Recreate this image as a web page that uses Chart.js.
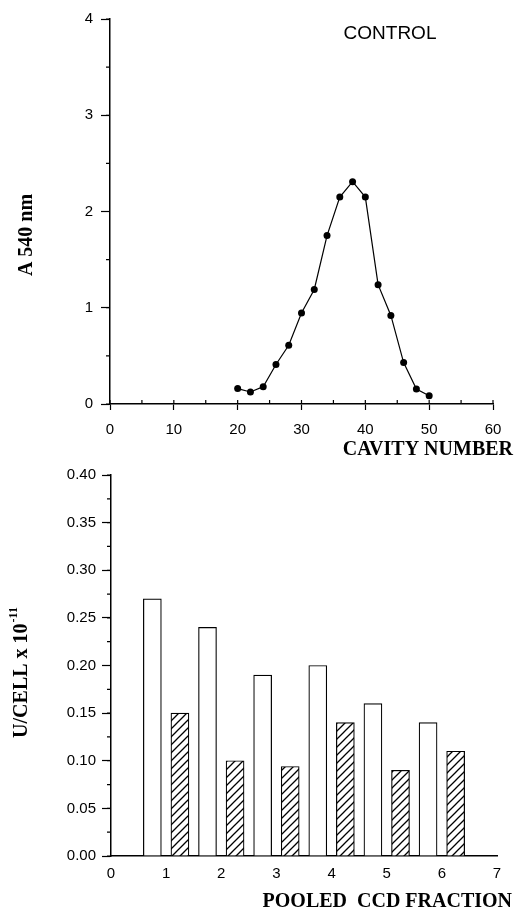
<!DOCTYPE html>
<html>
<head>
<meta charset="utf-8">
<script src="https://cdn.jsdelivr.net/npm/chart.js@4.4.1/dist/chart.umd.min.js"></script>
<style>
  body { margin:0; background:#fff; }
  #top { position:absolute; left:0; top:0; width:515px; height:460px; }
  #bottom { position:absolute; left:0; top:460px; width:515px; height:449px; }
</style>
</head>
<body>
<div id="top"><canvas id="chart1"></canvas></div>
<div id="bottom"><canvas id="chart2"></canvas></div>
<script>
// top panel: absorbance vs cavity number
const cavity = [20,22,24,26,28,30,32,34,36,38,40,42,44,46,48,50];
const absorbance = [0.16,0.125,0.18,0.41,0.61,0.945,1.19,1.75,2.15,2.31,2.15,1.24,0.92,0.43,0.155,0.085];

// bottom panel: pooled CCD fractions
const fraction = [1,2,3,4,5,6];
const openBars = [0.27,0.24,0.19,0.20,0.16,0.14];
const hatchedBars = [0.15,0.10,0.094,0.14,0.09,0.11];

Chart.defaults.color = '#000';
Chart.defaults.font.family = "'Liberation Sans', Arial, sans-serif";
Chart.defaults.font.size = 15;

const serif = "bold 20px 'Liberation Serif', 'Times New Roman', serif";

// free text (titles) drawn on the canvas
const textLabels = {
  id: 'textLabels',
  afterDraw(chart, args, opts) {
    const ctx = chart.ctx;
    (opts.items || []).forEach(it => {
      ctx.save();
      ctx.translate(it.x, it.y);
      if (it.rotate) ctx.rotate(-Math.PI / 2);
      ctx.fillStyle = '#000';
      ctx.textBaseline = 'middle';
      ctx.font = it.font;
      if (it.sup) {
        const w = ctx.measureText(it.text).width;
        ctx.font = it.supFont;
        const sw = ctx.measureText(it.sup).width;
        const start = -(w + sw) / 2;
        ctx.textAlign = 'left';
        ctx.font = it.font;
        ctx.fillText(it.text, start, 0);
        ctx.font = it.supFont;
        ctx.fillText(it.sup, start + w + 1, -8);
      } else {
        ctx.textAlign = it.align || 'center';
        ctx.fillText(it.text, 0, 0);
      }
      ctx.restore();
    });
  }
};

// short minor ticks
const minorTicks = {
  id: 'minorTicks',
  afterDraw(chart, args, opts) {
    const ctx = chart.ctx;
    ctx.save();
    ctx.strokeStyle = '#000';
    ctx.lineWidth = 1.2;
    ['x', 'y'].forEach(id => {
      const o = opts[id];
      const s = chart.scales[id];
      if (!o || !s) return;
      ctx.beginPath();
      for (let v = s.min; v <= s.max + 1e-9; v += o.step) {
        const p = s.getPixelForValue(v);
        if (s.isHorizontal()) {
          ctx.moveTo(p, s.top);
          ctx.lineTo(p, s.top + (o.inside ? -o.len : o.len));
        } else {
          ctx.moveTo(s.right, p);
          ctx.lineTo(s.right - o.len, p);
        }
      }
      ctx.stroke();
    });
    ctx.restore();
  }
};

Chart.register(textLabels, minorTicks);

function hatch() {
  const c = document.createElement('canvas');
  c.width = 8; c.height = 8;
  const g = c.getContext('2d');
  g.fillStyle = '#fff';
  g.fillRect(0, 0, 8, 8);
  g.strokeStyle = '#000';
  g.lineWidth = 1.3;
  g.beginPath();
  g.moveTo(0, 8); g.lineTo(8, 0);
  g.moveTo(-2, 2); g.lineTo(2, -2);
  g.moveTo(6, 10); g.lineTo(10, 6);
  g.stroke();
  return g.createPattern(c, 'repeat');
}

const axisBorder = { color: '#000', width: 1.5 };

//first
const ctx1 = document.getElementById('chart1').getContext('2d');
const chart1 = new Chart(ctx1, {
  type: 'scatter',
  data: {
    datasets: [{
      data: cavity.map((c, i) => ({ x: c, y: absorbance[i] })),
      showLine: true,
      borderColor: '#000',
      borderWidth: 1.2,
      backgroundColor: '#000',
      pointRadius: 3.5,
      pointBorderWidth: 0
    }]
  },
  options: {
    responsive: true,
    maintainAspectRatio: false,
    animation: false,
    layout: { padding: { top: 19, right: 22, left: 0, bottom: 0 } },
    plugins: {
      legend: { display: false },
      tooltip: { enabled: false },
      textLabels: {
        items: [
          { text: 'CONTROL', x: 390, y: 34, font: "19px 'Liberation Sans', Arial, sans-serif" },
          { text: 'A 540 nm', x: 27, y: 235, rotate: true, font: serif },
          { text: 'CAVITY NUMBER', x: 513, y: 450, align: 'right', font: serif }
        ]
      },
      minorTicks: { x: { step: 5, len: 4, inside: true }, y: { step: 0.5, len: 4 } }
    },
    scales: {
      x: {
        type: 'linear', min: 0, max: 60,
        border: axisBorder,
        grid: { drawOnChartArea: false, color: '#000', tickLength: 6, tickWidth: 1.2 },
        ticks: { stepSize: 10, padding: 11 },
        afterFit: s => { s.height = 56; }
      },
      y: {
        min: 0, max: 4,
        border: axisBorder,
        grid: { drawOnChartArea: false, color: '#000', tickLength: 9, tickWidth: 1.2 },
        ticks: { stepSize: 1, padding: 8 },
        afterFit: s => { s.width = 110; }
      }
    }
  }
});

//second
const ctx2 = document.getElementById('chart2').getContext('2d');
const chart2 = new Chart(ctx2, {
  type: 'bar',
  data: {
    datasets: [{
      data: fraction.map((f, i) => ({ x: f - 0.25, y: openBars[i] })),
      backgroundColor: '#fff',
      borderColor: '#000',
      borderWidth: 1.2,
      barThickness: 18,
      grouped: false
    }, {
      data: fraction.map((f, i) => ({ x: f + 0.25, y: hatchedBars[i] })),
      backgroundColor: hatch(),
      borderColor: '#000',
      borderWidth: 1.2,
      barThickness: 18,
      grouped: false
    }]
  },
  options: {
    responsive: true,
    maintainAspectRatio: false,
    animation: false,
    layout: { padding: { top: 9, right: 18, left: 0, bottom: 0 } },
    plugins: {
      legend: { display: false },
      tooltip: { enabled: false },
      textLabels: {
        items: [
          { text: 'U/CELL x 10', sup: '-11', x: 22, y: 213, rotate: true, font: serif,
            supFont: "bold 12px 'Liberation Serif', 'Times New Roman', serif" },
          { text: 'POOLED  CCD FRACTION', x: 512, y: 442, align: 'right', font: serif }
        ]
      },
      minorTicks: { y: { step: 0.025, len: 4 } }
    },
    scales: {
      x: {
        type: 'linear', min: 0, max: 7, offset: false,
        border: axisBorder,
        grid: { drawOnChartArea: false, drawTicks: false, offset: false },
        ticks: { stepSize: 1, padding: 9 },
        afterFit: s => { s.height = 53; }
      },
      y: {
        min: 0, max: 0.4,
        border: axisBorder,
        grid: { drawOnChartArea: false, color: '#000', tickLength: 9, tickWidth: 1.2 },
        ticks: { stepSize: 0.05, padding: 6, callback: v => v.toFixed(2) },
        afterFit: s => { s.width = 111; }
      }
    }
  }
});
</script>
</body>
</html>
